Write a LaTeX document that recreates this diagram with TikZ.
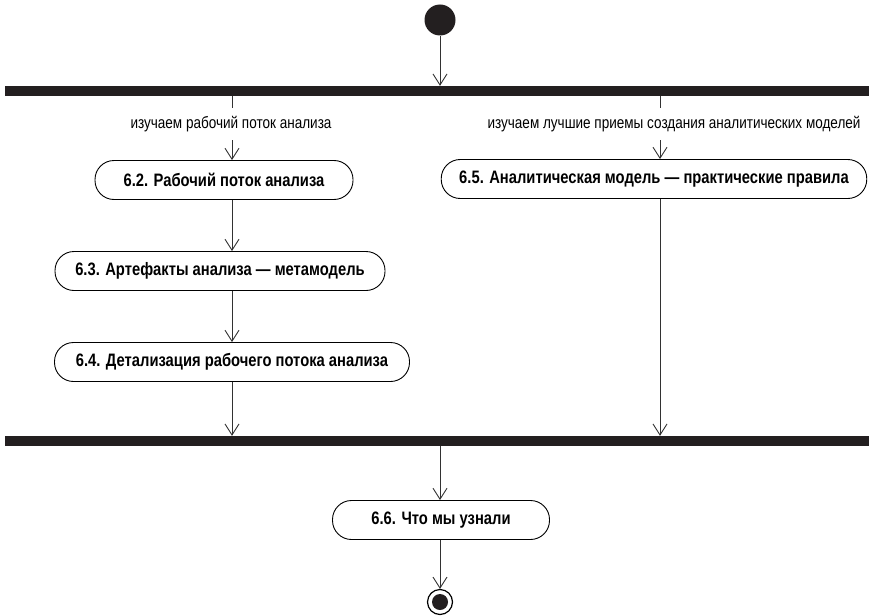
\documentclass[tikz,border=0pt]{standalone}
\usepackage{fontspec}
\setmainfont{Liberation Sans}[FakeStretch=0.82]
\definecolor{barBlack}{RGB}{35,31,32}
\definecolor{lineGray}{RGB}{50,50,50}
\usetikzlibrary{arrows.meta,positioning}

\begin{document}
\begin{tikzpicture}[
  x=1pt, y=-1pt,
  act/.style={
    draw=black, line width=0.9pt, rounded corners=19pt,
    minimum height=39pt, inner xsep=18pt, align=center,
    font=\fontsize{18}{20}\selectfont\bfseries
  },
  bar/.style={fill=barBlack, draw=none, minimum width=864pt, minimum height=10pt, inner sep=0pt},
  lbl/.style={fill=white, inner xsep=2pt, inner ysep=8pt, font=\fontsize{16.5}{18}\selectfont},
  flow/.style={draw=lineGray, line width=0.9pt, -{Straight Barb[length=11pt, width=14pt]}},
  initial/.style={circle, fill=barBlack, minimum size=31pt, inner sep=0pt},
  final/.style={circle, draw=black, line width=1.2pt, minimum size=25pt, inner sep=0pt,
    path picture={\fill[barBlack] (path picture bounding box.center) circle (8pt);}}
]
  \useasboundingbox (0,0) rectangle (874,615);

  \coordinate (laneL) at (232,0);
  \coordinate (laneR) at (660,0);

  \node[initial] (start) at (440,20) {};
  \node[bar] (fork) at (437,91) {};
  \node[bar] (join) at (437,441) {};

  \node[act, minimum width=258pt] (n62) at (224,180) {6.2. Рабочий поток анализа};
  \node[act, minimum width=330pt] (n63) at (220,271) {6.3. Артефакты анализа — метамодель};
  \node[act, minimum width=355pt] (n64) at (232,362) {6.4. Детализация рабочего потока анализа};
  \node[act, minimum width=402pt] (n65) at (654,179) {6.5. Аналитическая модель — практические правила};
  \node[act, minimum width=217pt] (n66) at (441,520) {6.6. Что мы узнали};
  \node[final] (stop) at (440,602) {};

  \draw[flow] (start) -- (start |- fork.north);
  \draw[flow] (laneL |- fork.south) -- (laneL |- n62.north);
  \draw[flow] (laneL |- n62.south) -- (laneL |- n63.north);
  \draw[flow] (laneL |- n63.south) -- (laneL |- n64.north);
  \draw[flow] (laneL |- n64.south) -- (laneL |- join.north);
  \draw[flow] (laneR |- fork.south) -- (laneR |- n65.north);
  \draw[flow] (laneR |- n65.south) -- (laneR |- join.north);
  \draw[flow] (stop |- join.south) -- (stop |- n66.north);
  \draw[flow] (stop |- n66.south) -- (stop.north);

  \node[lbl] (lblL) at (231,124) {изучаем рабочий поток анализа};
  \node[lbl] (lblR) at (674,124) {изучаем лучшие приемы создания аналитических моделей};
\end{tikzpicture}
\end{document}
